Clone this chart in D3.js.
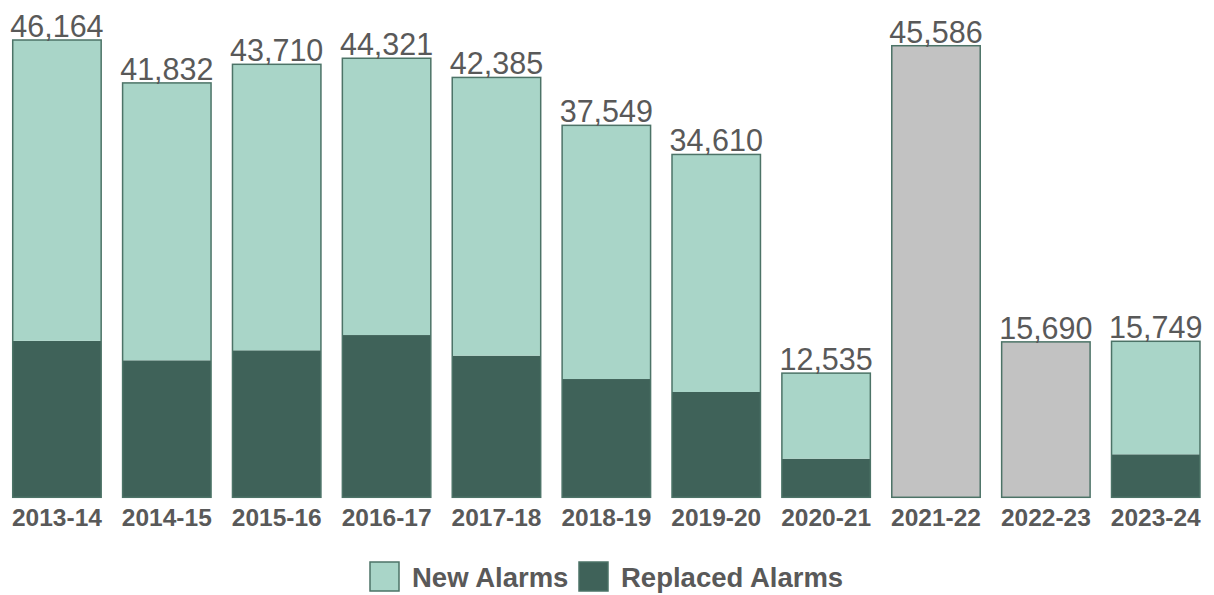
<!DOCTYPE html>
<html>
<head>
<meta charset="utf-8">
<script src="https://cdn.jsdelivr.net/npm/d3@7"></script>
<style>
  html, body { margin: 0; padding: 0; background: #ffffff; }
  svg { display: block; font-family: "Liberation Sans", Arial, sans-serif; }
</style>
</head>
<body>
<svg id="chart" width="1214" height="595"></svg>
<script>
const categories = ["2013-14","2014-15","2015-16","2016-17","2017-18","2018-19","2019-20","2020-21","2021-22","2022-23","2023-24"];
const totals     = [46164, 41832, 43710, 44321, 42385, 37549, 34610, 12535, 45586, 15690, 15749];
const replaced   = [15800, 13830, 14840, 16380, 14300, 11940, 10630, 3900, null, null, 4340];
const seriesNames = ["New Alarms", "Replaced Alarms"];

const colNew = "#a9d5c8", colRep = "#3f6259", colGray = "#c2c2c2", colStroke = "#4c7367", colText = "#595959";

const svg = d3.select("#chart");
const x = d3.scaleBand().domain(categories).range([2, 1210.7]).paddingInner(0.195).paddingOuter(0.0975);
const y = d3.scaleLinear().domain([0, 46164]).range([497.3, 40]);

const rows = categories.map((c, i) => ({
  cat: c, total: totals[i], rep: replaced[i],
  newv: replaced[i] == null ? null : totals[i] - replaced[i]
}));

const g = svg.append("g");
// gray (unsplit) bars
g.selectAll("rect.gray").data(rows.filter(d => d.rep == null)).join("rect")
  .attr("class", "gray")
  .attr("x", d => x(d.cat)).attr("width", x.bandwidth())
  .attr("y", d => y(d.total)).attr("height", d => y(0) - y(d.total))
  .attr("fill", colGray);
// replaced segment
g.selectAll("rect.rep").data(rows.filter(d => d.rep != null)).join("rect")
  .attr("class", "rep")
  .attr("x", d => x(d.cat)).attr("width", x.bandwidth())
  .attr("y", d => y(d.rep)).attr("height", d => y(0) - y(d.rep))
  .attr("fill", colRep);
// new segment
g.selectAll("rect.new").data(rows.filter(d => d.rep != null)).join("rect")
  .attr("class", "new")
  .attr("x", d => x(d.cat)).attr("width", x.bandwidth())
  .attr("y", d => y(d.total)).attr("height", d => y(d.rep) - y(d.total))
  .attr("fill", colNew);
// outlines
g.selectAll("rect.outline").data(rows).join("rect")
  .attr("class", "outline")
  .attr("x", d => x(d.cat)).attr("width", x.bandwidth())
  .attr("y", d => y(d.total)).attr("height", d => y(0) - y(d.total))
  .attr("fill", "none").attr("stroke", colStroke).attr("stroke-width", 1.5);

// value labels
const fmt = d3.format(",");
g.selectAll("text.val").data(rows).join("text")
  .attr("class", "val")
  .attr("x", d => x(d.cat) + x.bandwidth() / 2)
  .attr("y", d => y(d.total) - 3)
  .attr("text-anchor", "middle")
  .attr("font-size", 30.5)
  .attr("fill", colText)
  .text(d => fmt(d.total));

// x axis labels
const xAxis = d3.axisBottom(x).tickSize(0).tickPadding(0);
const ax = svg.append("g").attr("transform", `translate(0, ${y(0)})`).call(xAxis);
ax.select(".domain").remove();
ax.selectAll("text")
  .attr("dy", null).attr("y", 29)
  .attr("font-family", "Liberation Sans, Arial, sans-serif")
  .attr("font-size", 24.5).attr("font-weight", "bold").attr("fill", colText);

// legend
const legendItems = [
  { name: seriesNames[0], color: colNew, x: 370 },
  { name: seriesNames[1], color: colRep, x: 579 }
];
const lg = svg.append("g");
legendItems.forEach(it => {
  lg.append("rect").attr("x", it.x).attr("y", 562).attr("width", 29).attr("height", 29)
    .attr("fill", it.color).attr("stroke", colStroke).attr("stroke-width", 1.5);
  lg.append("text").attr("x", it.x + 42).attr("y", 587)
    .attr("font-size", 27.5).attr("font-weight", "bold").attr("fill", colText)
    .text(it.name);
});
</script>
</body>
</html>
